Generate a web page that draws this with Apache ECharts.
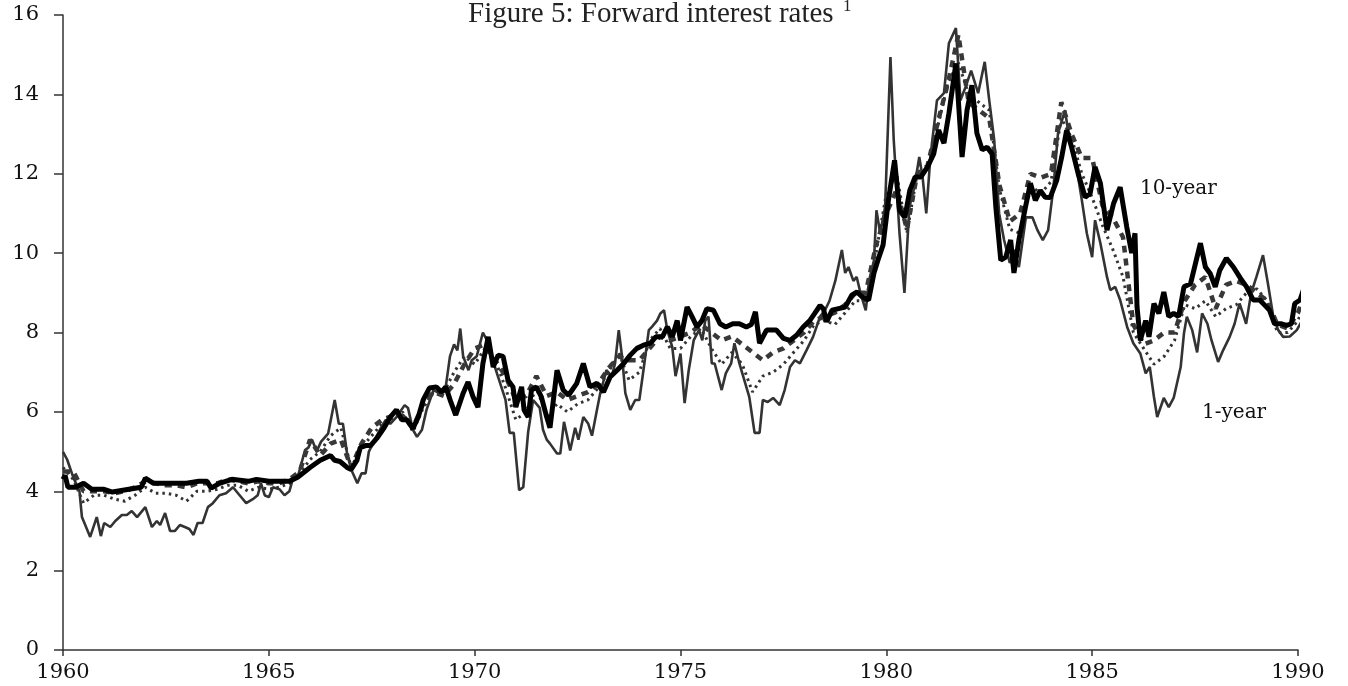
<!DOCTYPE html>
<html>
<head>
    <meta charset="UTF-8">
    <title>Forward interest rates</title>
    <script src="https://cdn.jsdelivr.net/npm/echarts@6/dist/echarts.min.js"></script>
    <style>
    html, body { margin: 0; padding: 0; background: #fff; }
    #chart { width: 1348px; height: 686px; }
    </style>
</head>
<body>
    <div id="chart"></div>
    <script type="text/javascript">
    // 1-year forward rate (thin grey line)
    var oneYearDates = [1960.0, 1960.1, 1960.25, 1960.4, 1960.46, 1960.66, 1960.82, 1960.92, 1961.0, 1961.15, 1961.27, 1961.43, 1961.55, 1961.67, 1961.8,
        1962.0, 1962.16, 1962.28, 1962.36, 1962.48, 1962.6, 1962.72, 1962.84, 1962.96, 1963.07, 1963.17, 1963.27, 1963.39, 1963.52, 1963.64, 1963.8, 1963.96,
        1964.13, 1964.29, 1964.45, 1964.61, 1964.73, 1964.81, 1964.9, 1965.0, 1965.1, 1965.26, 1965.38, 1965.5, 1965.58, 1965.7, 1965.88, 1965.96,
        1966.05, 1966.16, 1966.27, 1966.44, 1966.6, 1966.7, 1966.8, 1966.9, 1967.0, 1967.15, 1967.25, 1967.35, 1967.43, 1967.6, 1967.75, 1967.84, 1967.95,
        1968.1, 1968.3, 1968.38, 1968.5, 1968.6, 1968.72, 1968.83, 1969.0, 1969.15, 1969.3, 1969.4, 1969.5, 1969.58, 1969.65, 1969.72, 1969.85, 1969.93,
        1970.05, 1970.2, 1970.35, 1970.5, 1970.75, 1970.85, 1970.95, 1971.08, 1971.18, 1971.3, 1971.42, 1971.58, 1971.66, 1971.75, 1971.83,
        1972.0, 1972.08, 1972.17, 1972.32, 1972.44, 1972.52, 1972.64, 1972.76, 1972.85, 1972.97, 1973.05, 1973.2, 1973.33, 1973.41, 1973.5, 1973.58, 1973.66, 1973.78, 1973.9,
        1974.0, 1974.1, 1974.23, 1974.31, 1974.43, 1974.51, 1974.6, 1974.68, 1974.8, 1974.88, 1975.0, 1975.1, 1975.2, 1975.32, 1975.45, 1975.53, 1975.6, 1975.68, 1975.76, 1975.83, 1975.91,
        1976.0, 1976.1, 1976.23, 1976.31, 1976.43, 1976.55, 1976.67, 1976.8, 1976.92, 1977.0, 1977.12, 1977.25, 1977.41, 1977.53, 1977.66, 1977.78, 1977.9,
        1978.06, 1978.22, 1978.39, 1978.51, 1978.62, 1978.76, 1978.92, 1979.0, 1979.08, 1979.2, 1979.28, 1979.37, 1979.5, 1979.58, 1979.7, 1979.76, 1979.85, 1979.97,
        1980.1, 1980.18, 1980.32, 1980.44, 1980.56, 1980.68, 1980.8, 1980.88, 1980.97, 1981.07, 1981.23, 1981.4, 1981.52, 1981.69, 1981.8, 1981.93,
        1982.06, 1982.23, 1982.39, 1982.5, 1982.62, 1982.74, 1982.86, 1983.0, 1983.1, 1983.22, 1983.39, 1983.55, 1983.67, 1983.8, 1983.93,
        1984.06, 1984.17, 1984.34, 1984.46, 1984.62, 1984.75, 1984.87, 1985.0, 1985.07, 1985.2, 1985.36, 1985.44, 1985.56, 1985.68, 1985.85,
        1986.0, 1986.17, 1986.3, 1986.4, 1986.5, 1986.58, 1986.74, 1986.86, 1986.98, 1987.15, 1987.23, 1987.3, 1987.43, 1987.55, 1987.67, 1987.8, 1987.9,
        1988.06, 1988.18, 1988.34, 1988.46, 1988.58, 1988.66, 1988.74, 1988.86, 1988.99, 1989.15, 1989.27, 1989.4, 1989.52, 1989.64, 1989.8, 1989.97, 1990.1, 1990.18];
    var oneYear = [4.99, 4.8, 4.35, 4.0, 3.35, 2.85, 3.35, 2.87, 3.2, 3.1, 3.25, 3.4, 3.4, 3.5, 3.35,
        3.6, 3.1, 3.25, 3.15, 3.45, 3.0, 3.0, 3.15, 3.1, 3.05, 2.9, 3.2, 3.2, 3.6, 3.7, 3.9, 3.95,
        4.1, 3.9, 3.7, 3.8, 3.9, 4.2, 3.9, 3.85, 4.1, 4.05, 3.9, 4.0, 4.3, 4.35, 5.04, 5.1,
        5.3, 5.0, 5.25, 5.45, 6.3, 5.7, 5.7, 4.95, 4.55, 4.2, 4.45, 4.45, 5.0, 5.35, 5.65, 5.8, 5.7,
        5.87, 6.17, 6.1, 5.55, 5.37, 5.55, 6.05, 6.55, 6.47, 6.65, 7.4, 7.7, 7.55, 8.1, 7.4, 7.05, 7.3,
        7.4, 8.0, 7.7, 7.1, 6.3, 5.47, 5.47, 4.03, 4.1, 5.5, 6.3, 6.1, 5.55, 5.3, 5.2,
        4.95, 4.95, 5.75, 5.03, 5.6, 5.3, 5.87, 5.7, 5.4, 6.05, 6.47, 7.05, 6.9, 7.22, 8.06, 7.4, 6.47, 6.05, 6.3,
        6.3, 7.05, 8.06, 8.15, 8.3, 8.48, 8.56, 8.06, 7.63, 6.9, 7.47, 6.22, 7.05, 7.8, 8.06, 7.8, 8.3, 8.4, 7.22, 7.22, 6.9,
        6.55, 6.97, 7.22, 7.73, 7.22, 6.8, 6.38, 5.47, 5.47, 6.3, 6.25, 6.35, 6.17, 6.55, 7.13, 7.3, 7.22,
        7.55, 7.89, 8.4, 8.56, 8.8, 9.3, 10.08, 9.5, 9.65, 9.3, 9.4, 9.0, 8.56, 9.3, 9.82, 11.08, 10.5, 11.16,
        14.94, 12.85, 10.5, 9.0, 11.16, 11.66, 12.42, 11.92, 11.0, 12.42, 13.85, 14.03, 15.29, 15.67, 13.85, 14.2,
        14.6, 14.03, 14.82, 13.85, 12.85, 11.0, 10.33, 9.75, 10.08, 9.65, 10.9, 10.9, 10.58, 10.33, 10.58,
        11.66, 13.02, 13.6, 12.77, 12.17, 11.33, 10.5, 9.9, 10.83, 10.25, 9.4, 9.07, 9.15, 8.82, 8.14,
        7.73, 7.47, 6.97, 7.13, 6.38, 5.87, 6.35, 6.12, 6.35, 7.13, 7.98, 8.4, 8.06, 7.5, 8.48, 8.22, 7.8,
        7.26, 7.55, 7.89, 8.22, 8.73, 8.48, 8.22, 8.98, 9.4, 9.95, 9.23, 8.4, 8.06, 7.89, 7.9, 8.06, 8.3, 9.0];

    // intermediate maturities, read quarterly
    var midDates = [1960.0, 1960.25, 1960.5, 1960.75, 1961.0, 1961.25, 1961.5, 1961.75, 1962.0, 1962.25, 1962.5, 1962.75,
        1963.0, 1963.25, 1963.5, 1963.75, 1964.0, 1964.25, 1964.5, 1964.75, 1965.0, 1965.25, 1965.5, 1965.75,
        1966.0, 1966.25, 1966.5, 1966.75, 1967.0, 1967.25, 1967.5, 1967.75, 1968.0, 1968.25, 1968.5, 1968.75,
        1969.0, 1969.25, 1969.5, 1969.75, 1970.0, 1970.25, 1970.5, 1970.75, 1971.0, 1971.25, 1971.5, 1971.75,
        1972.0, 1972.25, 1972.5, 1972.75, 1973.0, 1973.25, 1973.5, 1973.75, 1974.0, 1974.25, 1974.5, 1974.75,
        1975.0, 1975.25, 1975.5, 1975.75, 1976.0, 1976.25, 1976.5, 1976.75, 1977.0, 1977.25, 1977.5, 1977.75,
        1978.0, 1978.25, 1978.5, 1978.75, 1979.0, 1979.25, 1979.5, 1979.75, 1980.0, 1980.25, 1980.5, 1980.75,
        1981.0, 1981.25, 1981.5, 1981.75, 1982.0, 1982.25, 1982.5, 1982.75, 1983.0, 1983.25, 1983.5, 1983.75,
        1984.0, 1984.25, 1984.5, 1984.75, 1985.0, 1985.25, 1985.5, 1985.75, 1986.0, 1986.25, 1986.5, 1986.75,
        1987.0, 1987.25, 1987.5, 1987.75, 1988.0, 1988.25, 1988.5, 1988.75, 1989.0, 1989.25, 1989.5, 1989.75,
        1990.0, 1990.15];
    var dottedRate = [4.6, 4.3, 3.7, 3.9, 3.9, 3.8, 3.75, 3.9, 4.1, 3.95, 3.95, 3.9,
        3.75, 4.0, 4.0, 4.05, 4.15, 4.15, 4.0, 4.1, 4.05, 4.1, 4.2, 4.45,
        4.8, 5.0, 5.4, 5.6, 4.6, 5.1, 5.4, 5.7, 5.8, 6.0, 5.5, 6.1,
        6.5, 6.5, 7.0, 7.4, 7.2, 7.6, 7.3, 6.6, 5.8, 6.0, 6.6, 5.9,
        6.2, 6.0, 6.2, 6.3, 6.6, 7.0, 7.5, 6.8, 7.0, 7.8, 8.1, 7.6,
        7.6, 7.9, 8.1, 7.6, 7.2, 7.5, 7.2, 6.5, 6.9, 7.0, 7.2, 7.5,
        7.8, 8.2, 8.3, 8.2, 8.5, 8.8, 8.8, 10.0, 11.5, 12.0, 10.5, 12.0,
        12.1, 13.2, 14.3, 14.8, 14.0, 13.8, 13.6, 11.6, 10.6, 10.5, 11.7, 11.5,
        11.8, 13.4, 12.9, 12.0, 11.4, 10.7, 10.1, 9.4, 8.0, 7.6, 7.2, 7.4,
        7.8, 8.7, 8.6, 8.8, 8.4, 8.6, 8.7, 9.0, 9.1, 8.8, 8.0, 8.0,
        8.3, 8.7];
    var dashedRate = [4.5, 4.5, 4.0, 4.0, 4.0, 3.95, 4.0, 4.1, 4.25, 4.2, 4.15, 4.15,
        4.1, 4.2, 4.2, 4.2, 4.3, 4.25, 4.2, 4.25, 4.2, 4.2, 4.3, 4.5,
        5.3, 4.9, 5.2, 5.3, 4.6, 5.2, 5.6, 5.8, 5.9, 5.9, 5.6, 6.2,
        6.5, 6.4, 6.7, 7.2, 7.6, 7.7, 7.3, 6.9, 6.3, 6.4, 6.9, 6.4,
        6.5, 6.3, 6.4, 6.5, 6.7, 7.1, 7.4, 7.3, 7.3, 7.6, 7.9, 7.8,
        7.9, 8.0, 8.2, 8.0, 7.8, 7.9, 7.7, 7.5, 7.3, 7.5, 7.6, 7.8,
        8.0, 8.3, 8.4, 8.5, 8.7, 9.0, 9.0, 10.2, 11.0, 11.6, 10.6, 12.0,
        12.2, 13.3, 14.3, 15.5, 13.8, 13.6, 13.4, 11.7, 10.8, 11.0, 12.0, 11.9,
        12.0, 13.8, 13.0, 12.4, 12.4, 11.2, 10.9, 10.4, 8.2, 7.7, 7.8, 8.0,
        8.0, 8.8, 9.2, 9.4, 8.6, 9.2, 9.3, 9.2, 9.0, 8.8, 8.2, 8.1,
        8.5, 8.9];

    // 10-year forward rate (thick black line)
    var tenYearDates = [1960.0, 1960.05, 1960.12, 1960.3, 1960.5, 1960.7, 1961.0, 1961.2, 1961.6, 1961.9, 1962.0, 1962.2, 1962.6, 1963.0, 1963.3, 1963.5, 1963.6, 1963.8,
        1964.1, 1964.5, 1964.7, 1965.0, 1965.5, 1965.7, 1966.0, 1966.25, 1966.5, 1966.6, 1966.73, 1966.9, 1967.0, 1967.14, 1967.22, 1967.35, 1967.47, 1967.62, 1967.8, 1967.95,
        1968.1, 1968.23, 1968.35, 1968.5, 1968.63, 1968.75, 1968.9, 1969.07, 1969.19, 1969.3, 1969.42, 1969.54, 1969.72, 1969.84, 1969.96,
        1970.08, 1970.2, 1970.33, 1970.45, 1970.57, 1970.69, 1970.81, 1970.93, 1971.0, 1971.14, 1971.2, 1971.3, 1971.38, 1971.5, 1971.62, 1971.75, 1971.83,
        1972.0, 1972.15, 1972.28, 1972.48, 1972.64, 1972.8, 1972.97, 1973.13, 1973.29, 1973.46, 1973.62, 1973.78, 1973.94,
        1974.1, 1974.27, 1974.4, 1974.56, 1974.68, 1974.8, 1974.92, 1975.0, 1975.16, 1975.28, 1975.4, 1975.52, 1975.64, 1975.8, 1975.96,
        1976.1, 1976.27, 1976.43, 1976.6, 1976.72, 1976.82, 1976.92, 1977.09, 1977.33, 1977.5, 1977.66, 1977.82, 1977.98,
        1978.14, 1978.26, 1978.39, 1978.47, 1978.55, 1978.68, 1978.84, 1979.0, 1979.16, 1979.29, 1979.41, 1979.57, 1979.7, 1979.82, 1979.92,
        1980.05, 1980.2, 1980.32, 1980.45, 1980.57, 1980.7, 1980.84, 1981.0, 1981.15, 1981.27, 1981.4, 1981.52, 1981.69, 1981.84, 1981.96,
        1982.08, 1982.2, 1982.33, 1982.45, 1982.57, 1982.66, 1982.78, 1982.9, 1983.02, 1983.1, 1983.22, 1983.38, 1983.5, 1983.62, 1983.74, 1983.86, 1983.98,
        1984.14, 1984.26, 1984.38, 1984.5, 1984.66, 1984.83, 1984.95, 1985.07, 1985.2, 1985.36, 1985.52, 1985.68, 1985.84, 1985.96,
        1986.04, 1986.09, 1986.17, 1986.3, 1986.38, 1986.5, 1986.62, 1986.74, 1986.86, 1986.98, 1987.1, 1987.23, 1987.39, 1987.51, 1987.63, 1987.75, 1987.87, 1987.99,
        1988.1, 1988.26, 1988.43, 1988.6, 1988.75, 1988.91, 1989.07, 1989.19, 1989.31, 1989.43, 1989.6, 1989.72, 1989.84, 1989.92, 1990.05, 1990.13];
    var tenYear = [4.3, 4.4, 4.1, 4.1, 4.2, 4.05, 4.05, 3.98, 4.05, 4.1, 4.33, 4.2, 4.2, 4.2, 4.25, 4.25, 4.08, 4.2,
        4.3, 4.25, 4.3, 4.25, 4.25, 4.35, 4.6, 4.78, 4.9, 4.78, 4.75, 4.6, 4.55, 4.78, 5.1, 5.15, 5.15, 5.33, 5.6, 5.87,
        6.05, 5.8, 5.8, 5.58, 5.87, 6.3, 6.6, 6.63, 6.5, 6.63, 6.25, 5.92, 6.47, 6.75, 6.38,
        6.12, 7.22, 7.89, 7.13, 7.43, 7.4, 6.8, 6.63, 6.12, 6.63, 6.05, 5.87, 6.55, 6.63, 6.38, 5.87, 5.6,
        7.05, 6.55, 6.42, 6.72, 7.22, 6.63, 6.72, 6.5, 6.88, 7.05, 7.22, 7.43, 7.6,
        7.68, 7.73, 7.89, 7.89, 8.14, 7.89, 8.3, 7.8, 8.64, 8.4, 8.14, 8.3, 8.6, 8.56, 8.22,
        8.14, 8.22, 8.22, 8.14, 8.2, 8.52, 7.73, 8.06, 8.06, 7.85, 7.8, 7.93, 8.14,
        8.3, 8.48, 8.68, 8.6, 8.27, 8.56, 8.6, 8.64, 8.94, 9.02, 8.9, 8.82, 9.5, 9.9, 10.2,
        11.33, 12.34, 11.08, 10.9, 11.58, 11.92, 11.92, 12.17, 12.5, 13.1, 12.77, 13.52, 14.78, 12.42, 13.6,
        14.23, 13.02, 12.6, 12.67, 12.5, 11.16, 9.82, 9.9, 10.33, 9.5, 10.33, 11.16, 11.76, 11.33, 11.58, 11.41, 11.4,
        11.84, 12.42, 13.1, 12.67, 12.0, 11.41, 11.5, 12.17, 11.76, 10.58, 11.25, 11.66, 10.66, 10.0,
        10.5, 8.64, 7.8, 8.3, 7.89, 8.73, 8.48, 9.02, 8.4, 8.48, 8.4, 9.15, 9.23, 9.74, 10.25, 9.65, 9.48, 9.15,
        9.57, 9.87, 9.65, 9.37, 9.15, 8.82, 8.82, 8.69, 8.56, 8.22, 8.22, 8.18, 8.22, 8.73, 8.82, 9.07];

    var xTicks = [1960, 1965, 1970, 1975, 1980, 1985, 1990];

    var pairs = function(dates, vals) {
        return dates.map(function(d, i) { return [d, vals[i]]; });
    };

    var serif = 'DejaVu Serif';
    var chart = echarts.init(document.getElementById('chart'));

    // text label sitting at a data coordinate
    var seriesLabel = function(coord, text) {
        return {
            symbol: 'circle',
            symbolSize: 0,
            itemStyle: { color: 'rgba(0,0,0,0)' },
            silent: true,
            label: {
                show: true,
                position: 'right',
                distance: 0,
                fontFamily: serif,
                fontSize: 20,
                color: '#111',
                formatter: text
            },
            data: [{ coord: coord }]
        };
    };

    var option = {
        animation: false,
        backgroundColor: '#fff',
        title: {
            text: '{t|Figure 5: Forward interest rates }{s|1}',
            left: 463,
            top: -7,
            textStyle: {
                fontWeight: 'normal',
                rich: {
                    t: { fontFamily: 'Liberation Serif', fontWeight: 'normal', fontSize: 29, color: '#222' },
                    s: { fontFamily: 'Liberation Serif', fontWeight: 'normal', fontSize: 17, color: '#222', verticalAlign: 'top', padding: [0, 0, 16, 2] }
                }
            }
        },
        grid: { left: 63, right: 50, top: 15, bottom: 36 },
        xAxis: {
            type: 'value',
            min: 1960,
            max: 1990,
            interval: 5,
            axisLine: { lineStyle: { color: '#333', width: 1.5 } },
            axisTick: { length: 6, lineStyle: { color: '#333', width: 1.5 } },
            splitLine: { show: false },
            axisLabel: {
                margin: 12,
                fontFamily: serif,
                fontSize: 21,
                color: '#111',
                formatter: function(v) { return xTicks.indexOf(v) >= 0 ? String(v) : ''; }
            }
        },
        yAxis: {
            type: 'value',
            min: 0,
            max: 16,
            interval: 2,
            axisLine: { show: true, lineStyle: { color: '#333', width: 1.5 } },
            axisTick: { show: true, length: 9, lineStyle: { color: '#333', width: 1.5 } },
            splitLine: { show: false },
            axisLabel: {
                margin: 24,
                fontFamily: serif,
                fontSize: 21,
                color: '#111'
            }
        },
        series: [{
            name: '1-year',
            type: 'line',
            showSymbol: false,
            data: pairs(oneYearDates, oneYear),
            lineStyle: { color: '#333', width: 2.6 },
            markPoint: seriesLabel([1987.67, 5.97], '1-year'),
            z: 2
        }, {
            name: 'dotted',
            type: 'line',
            showSymbol: false,
            data: pairs(midDates, dottedRate),
            lineStyle: { color: '#333', width: 3, type: [2.5, 4] },
            z: 3
        }, {
            name: 'dashed',
            type: 'line',
            showSymbol: false,
            data: pairs(midDates, dashedRate),
            lineStyle: { color: '#383838', width: 4.5, type: [7, 6] },
            z: 4
        }, {
            name: '10-year',
            type: 'line',
            showSymbol: false,
            data: pairs(tenYearDates, tenYear),
            lineStyle: { color: '#000', width: 5 },
            markPoint: seriesLabel([1986.16, 11.61], '10-year'),
            z: 5
        }]
    };
    chart.setOption(option);
    </script>
</body>
</html>
